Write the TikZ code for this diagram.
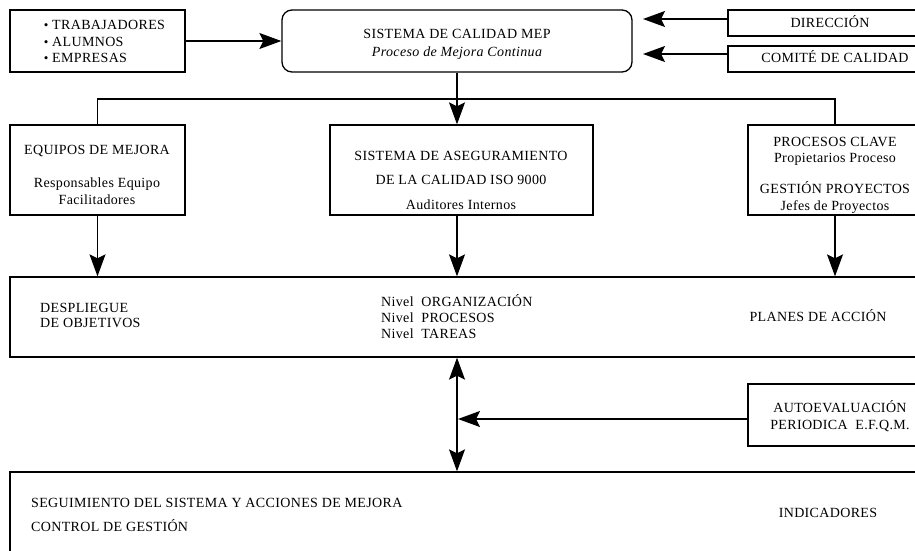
\documentclass[tikz,border=0pt]{standalone}
\usepackage{fontspec}
\setmainfont{Liberation Serif}[LetterSpace=2.5]
\usetikzlibrary{arrows.meta}
\begin{document}
\begin{tikzpicture}[x=1pt,y=-1pt,
  box/.style={draw, line width=1.3pt, inner sep=0pt},
  lbl/.style={font=\fontsize{14}{17}\selectfont, inner sep=0pt, anchor=base, yshift=-4.6pt},
  lbll/.style={lbl, anchor=base west},
  arr/.style={-{Stealth[length=22pt,width=16pt,inset=4pt]}, line width=1.3pt},
  darr/.style={{Stealth[length=22pt,width=16pt,inset=4pt]}-{Stealth[length=22pt,width=16pt,inset=4pt]}, line width=1.3pt},
  ln/.style={line width=1.3pt}]
\clip (0,0) rectangle (915,551);
% boxes
\node[box, minimum width=175pt, minimum height=62pt] (src) at (97.5,41) {};
\node[box, rounded corners=10pt, minimum width=350pt, minimum height=62pt] (mep) at (457,41) {};
\node[box, minimum width=212pt, minimum height=26pt] (dir) at (834,23) {};
\node[box, minimum width=212pt, minimum height=26pt] (com) at (834,59) {};
\node[box, minimum width=175pt, minimum height=90pt] (eq) at (97.5,170) {};
\node[box, minimum width=263pt, minimum height=90pt] (sac) at (461.5,170) {};
\node[box, minimum width=174pt, minimum height=90pt] (pc) at (835,170) {};
\node[box, minimum width=930pt, minimum height=80pt] (plan) at (475,317) {};
\node[box, minimum width=186pt, minimum height=62pt] (auto) at (841,415) {};
\node[box, minimum width=930pt, minimum height=148pt] (seg) at (475,546) {};
% texts
\node[lbll] (s1) at (40,25) {\makebox[12pt][c]{\fontsize{13}{13}\selectfont\textbullet}TRABAJADORES};
\node[lbll] (s2) at (40,42) {\makebox[12pt][c]{\fontsize{13}{13}\selectfont\textbullet}ALUMNOS};
\node[lbll] (s3) at (40,58) {\makebox[12pt][c]{\fontsize{13}{13}\selectfont\textbullet}EMPRESAS};
\node[lbl] (m1) at (457,34) {SISTEMA DE CALIDAD MEP};
\node[lbl] (m2) at (457,52) {\itshape Proceso de Mejora Continua};
\node[lbl] (d1t) at (830,23) {DIRECCIÓN};
\node[lbl] (c1t) at (835,58) {COMITÉ DE CALIDAD};
\node[lbl] (e1) at (97,150) {EQUIPOS DE MEJORA};
\node[lbl] (e2) at (97,183) {Responsables Equipo};
\node[lbl] (e3) at (97,200) {Facilitadores};
\node[lbl] (a1t) at (461,156) {SISTEMA DE ASEGURAMIENTO};
\node[lbl] (a2t) at (461,180) {DE LA CALIDAD ISO 9000};
\node[lbl] (a3t) at (461,205) {Auditores Internos};
\node[lbl] (p1) at (835,142) {PROCESOS CLAVE};
\node[lbl] (p2) at (835,158) {Propietarios Proceso};
\node[lbl] (p3) at (835,189) {GESTIÓN PROYECTOS};
\node[lbl] (p4) at (835,206) {Jefes de Proyectos};
\node[lbll] (o1) at (40,308) {DESPLIEGUE};
\node[lbll] (o2) at (40,323) {DE OBJETIVOS};
\node[lbll] (n1) at (381,302) {Nivel\ \ ORGANIZACIÓN};
\node[lbll] (n2) at (381,318) {Nivel\ \ PROCESOS};
\node[lbll] (n3) at (381,334) {Nivel\ \ TAREAS};
\node[lbl] (pl) at (818,317) {PLANES DE ACCIÓN};
\node[lbl] (u1) at (840,408) {AUTOEVALUACIÓN};
\node[lbl] (u2) at (840,425) {PERIODICA\ \ E.F.Q.M.};
\node[lbll] (g1) at (31,503) {SEGUIMIENTO DEL SISTEMA Y ACCIONES DE MEJORA};
\node[lbll] (g2) at (31,527) {CONTROL DE GESTIÓN};
\node[lbl] (ind) at (828,513) {INDICADORES};
% connectors
\coordinate (j) at (457,99);
\coordinate (v) at (457,0);
\coordinate (d1) at (643,19);
\coordinate (d2) at (643,54);
\coordinate (au) at (458,419);
\draw[arr] (src.east) -- (mep.west);
\draw[arr] (dir.west |- d1) -- (d1);
\draw[arr] (com.west |- d2) -- (d2);
\draw[ln] (eq.north) |- (j) -| (pc.north);
\draw[arr] (mep.south) -- (mep.south |- sac.north);
\draw[arr] (eq.south) -- (eq.south |- plan.north);
\draw[arr] (v |- sac.south) -- (v |- plan.north);
\draw[arr] (pc.south) -- (pc.south |- plan.north);
\draw[darr] (v |- plan.south) -- (v |- seg.north);
\draw[arr] (auto.west |- au) -- (au);
\end{tikzpicture}
\end{document}
